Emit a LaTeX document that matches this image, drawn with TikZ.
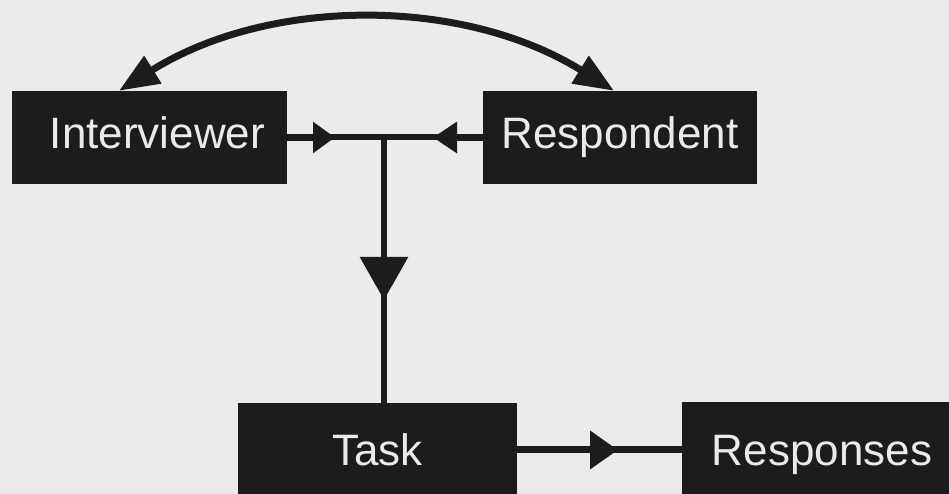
\documentclass[tikz,border=0pt]{standalone}
\usepackage{fontspec}
\setmainfont{Liberation Sans}
\usetikzlibrary{arrows.meta}
\definecolor{bgc}{HTML}{EBEBEB}
\definecolor{boxc}{HTML}{1C1C1C}
\definecolor{txtc}{HTML}{EAEAEA}
\begin{document}
\begin{tikzpicture}[x=1pt,y=1pt,
  blk/.style={fill=boxc, draw=none, text=txtc, inner sep=0pt,
    font=\fontsize{44}{50}\selectfont, text height=31.5pt},
  topblk/.style={blk, minimum height=93pt, text depth=9pt},
  botblk/.style={blk, minimum height=101pt, text depth=7pt},
  thickln/.style={draw=boxc, line width=7pt},
  thinln/.style={draw=boxc, line width=6pt},
  tipA/.style={-{Triangle[length=22pt,width=30pt]}},
  tipB/.style={-{Triangle[length=24pt,width=30pt]}},
  tipV/.style={-{Triangle[length=43pt,width=47pt]}},
  tipT/.style={-{Triangle[length=28pt,width=37pt]}},
  tipC/.style={{Triangle[length=40pt,width=31pt]}-{Triangle[length=40pt,width=31pt]}}]
\useasboundingbox (0,0) rectangle (949,494);
\clip (0,0) rectangle (949,494);
\fill[bgc] (0,0) rectangle (949,494);

\node[topblk, minimum width=275pt] (I) at (149.5,356.5) {\hspace*{16pt}Interviewer};
\node[topblk, minimum width=274pt] (R) at (620,356.5) {Respondent};
\node[botblk, minimum width=279pt] (T) at (377.5,40.5) {Task};
\node[botblk, minimum width=280pt] (S) at (822,41) {Responses};

\coordinate (J) at (384,356.5);
\coordinate (a1) at (335,356.5);
\coordinate (a2) at (433,356.5);
\coordinate (V) at (384,194);
\coordinate (W) at (618,44);

\draw[thickln, tipA] (I.east) -- (a1);
\draw[thinln] ([xshift=-10pt]a1) -- ([xshift=10pt]a2);
\draw[thickln, tipB] (R.west) -- (a2);
\draw[thinln, tipV] (J) -- (V);
\draw[thinln] ([yshift=12pt]V) -- (V |- T.north);
\draw[thickln, tipT] (T.east |- W) -- (W);
\draw[thickln] ([xshift=-10pt]W) -- (S.west |- W);

\draw[thickln, tipC] ([xshift=-30.5pt]I.north) to[out=32, in=148, looseness=0.92] ([xshift=-6pt]R.north);
\end{tikzpicture}
\end{document}
